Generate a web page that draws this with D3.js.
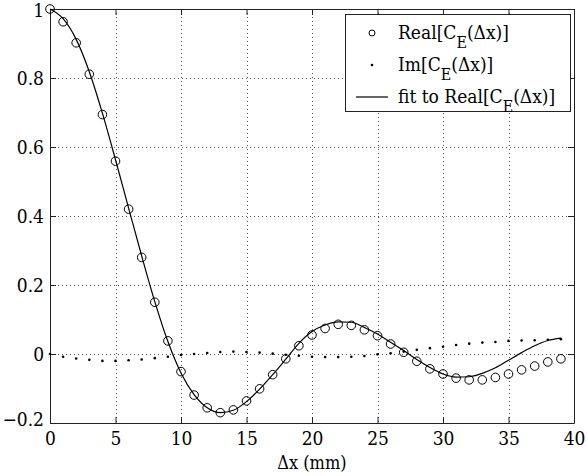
<!DOCTYPE html>
<html>
<head>
<meta charset="utf-8">
<script src="https://cdn.jsdelivr.net/npm/d3@7"></script>
<style>
    body { margin: 0; background: #fff; }
</style>
</head>
<body>
<div id="chart"></div>
<script>
const FONT = "'DejaVu Serif Condensed', 'DejaVu Serif', serif";

// separation in mm
const dx = d3.range(0, 40);

// Real[C_E(dx)] measured points
const realValues = [
    1.0, 0.963, 0.902, 0.811, 0.694, 0.559, 0.42, 0.28, 0.15, 0.038,
    -0.051, -0.119, -0.156, -0.17, -0.162, -0.136, -0.101, -0.06, -0.014, 0.024,
    0.055, 0.074, 0.086, 0.083, 0.07, 0.053, 0.029, 0.005, -0.021, -0.043,
    -0.058, -0.07, -0.075, -0.075, -0.068, -0.058, -0.046, -0.035, -0.023, -0.014
];

// Im[C_E(dx)] measured points
const imValues = [
    0.0, -0.008, -0.013, -0.017, -0.02, -0.02, -0.018, -0.016, -0.012, -0.008,
    -0.003, 0.0, 0.003, 0.006, 0.007, 0.006, 0.004, 0.001, -0.002, -0.005,
    -0.008, -0.009, -0.009, -0.008, -0.006, -0.001, 0.002, 0.007, 0.012, 0.017,
    0.021, 0.026, 0.03, 0.033, 0.035, 0.038, 0.039, 0.04, 0.041, 0.043
];

// fit to the real part, read at each mm
const fitValues = [
    1.0, 0.972, 0.912, 0.818, 0.698, 0.563, 0.423, 0.284, 0.152, 0.036,
    -0.055, -0.118, -0.156, -0.17, -0.163, -0.138, -0.102, -0.06, -0.015, 0.031,
    0.065, 0.084, 0.093, 0.092, 0.077, 0.058, 0.034, 0.01, -0.016, -0.039,
    -0.058, -0.067, -0.066, -0.056, -0.04, -0.018, 0.004, 0.024, 0.039, 0.046
];

const xTicks = [0, 5, 10, 15, 20, 25, 30, 35, 40];
const yTicks = [-0.2, 0, 0.2, 0.4, 0.6, 0.8, 1];
const yTickLabels = ['\u22120.2', '0', '0.2', '0.4', '0.6', '0.8', '1'];

const width = 587;
const height = 476;
const margin = { left: 50, right: 13, top: 9, bottom: 53 };

const svg = d3.select('#chart').append('svg')
    .attr('width', width)
    .attr('height', height)
    .style('font-family', FONT);

svg.append('rect').attr('width', width).attr('height', height).attr('fill', '#fff');

const x = d3.scaleLinear().domain([0, 40]).range([margin.left, width - margin.right]);
const y = d3.scaleLinear().domain([-0.2, 1]).range([height - margin.bottom, margin.top]);

// dotted grid
const grid = svg.append('g')
    .attr('stroke', '#555')
    .attr('stroke-width', 1)
    .attr('stroke-dasharray', '1,3');
grid.selectAll('line.gx')
    .data(xTicks.slice(1, -1))
    .enter().append('line')
    .attr('x1', (d) => Math.round(x(d)) + 0.5)
    .attr('x2', (d) => Math.round(x(d)) + 0.5)
    .attr('y1', y(1))
    .attr('y2', y(-0.2));
grid.selectAll('line.gy')
    .data(yTicks.slice(1, -1))
    .enter().append('line')
    .attr('y1', (d) => Math.round(y(d)) + 0.5)
    .attr('y2', (d) => Math.round(y(d)) + 0.5)
    .attr('x1', x(0))
    .attr('x2', x(40));

// axes with inward ticks on all four sides
const tickLen = 6;
const xAxisB = d3.axisBottom(x).tickValues(xTicks).tickSizeInner(-tickLen).tickSizeOuter(0).tickPadding(9);
const xAxisT = d3.axisTop(x).tickValues(xTicks).tickSizeInner(-tickLen).tickSizeOuter(0).tickFormat('');
const yAxisL = d3.axisLeft(y).tickValues(yTicks).tickSizeInner(-tickLen).tickSizeOuter(0).tickPadding(6)
    .tickFormat((d, i) => yTickLabels[i]);
const yAxisR = d3.axisRight(y).tickValues(yTicks).tickSizeInner(-tickLen).tickSizeOuter(0).tickFormat('');

const gB = svg.append('g').attr('transform', `translate(0, ${y(-0.2)})`).call(xAxisB);
svg.append('g').attr('transform', `translate(0, ${y(1)})`).call(xAxisT);
const gL = svg.append('g').attr('transform', `translate(${x(0)}, 0)`).call(yAxisL);
svg.append('g').attr('transform', `translate(${x(40)}, 0)`).call(yAxisR);

svg.selectAll('g').attr('font-family', null);
svg.selectAll('.domain').attr('stroke', '#222');
svg.selectAll('.tick line').attr('stroke', '#222');
gB.selectAll('text').style('font-size', '19px').style('font-family', FONT).attr('fill', '#000');
gL.selectAll('text').style('font-size', '19px').style('font-family', FONT).attr('fill', '#000');
// the -0.2 label sits a little higher, like the original
gL.selectAll('.tick').filter((d) => d === -0.2).select('text').attr('dy', '0.12em');
gL.selectAll('.tick').filter((d) => d === 1).select('text').attr('dy', '0.42em');

// x axis label
svg.append('text')
    .attr('x', (x(0) + x(40)) / 2)
    .attr('y', 469)
    .attr('text-anchor', 'middle')
    .style('font-family', FONT)
    .style('font-size', '18px')
    .text('\u0394x (mm)');

// fit line
const line = d3.line()
    .x((d) => x(d[0]))
    .y((d) => y(d[1]))
    .curve(d3.curveMonotoneX);
svg.append('path')
    .datum(dx.map((d, i) => [d, fitValues[i]]))
    .attr('fill', 'none')
    .attr('stroke', '#000')
    .attr('stroke-width', 1.2)
    .attr('d', line);

// real part circles
svg.selectAll('circle.real')
    .data(dx)
    .enter().append('circle')
    .attr('class', 'real')
    .attr('cx', (d) => x(d))
    .attr('cy', (d, i) => y(realValues[i]))
    .attr('r', 4.3)
    .attr('fill', 'none')
    .attr('stroke', '#000')
    .attr('stroke-width', 1);

// imaginary part dots
svg.selectAll('circle.im')
    .data(dx)
    .enter().append('circle')
    .attr('class', 'im')
    .attr('cx', (d) => x(d))
    .attr('cy', (d, i) => y(imValues[i]))
    .attr('r', 1.3)
    .attr('fill', '#000');

// legend
const legend = svg.append('g');
legend.append('rect')
    .attr('x', 345.5)
    .attr('y', 14.5)
    .attr('width', 225)
    .attr('height', 97)
    .attr('fill', '#fff')
    .attr('stroke', '#222');

const rowY = [33, 65, 97];
legend.append('circle').attr('cx', 372).attr('cy', rowY[0]).attr('r', 3).attr('fill', 'none').attr('stroke', '#000');
legend.append('circle').attr('cx', 372).attr('cy', rowY[1]).attr('r', 1.3).attr('fill', '#000');
legend.append('line').attr('x1', 356).attr('x2', 388).attr('y1', rowY[2]).attr('y2', rowY[2])
    .attr('stroke', '#000').attr('stroke-width', 1.2);

const labels = [['Real[C', '(\u0394x)]'], ['Im[C', '(\u0394x)]'], ['fit to Real[C', '(\u0394x)]']];
labels.forEach((parts, i) => {
    const t = legend.append('text')
        .attr('x', 398)
        .attr('y', rowY[i] + 6)
        .style('font-family', FONT)
        .style('font-size', '19px');
    t.append('tspan').text(parts[0]);
    t.append('tspan').attr('dy', 9).style('font-size', '16px').text('E');
    t.append('tspan').attr('dy', -9).text(parts[1]);
});
</script>
</body>
</html>
